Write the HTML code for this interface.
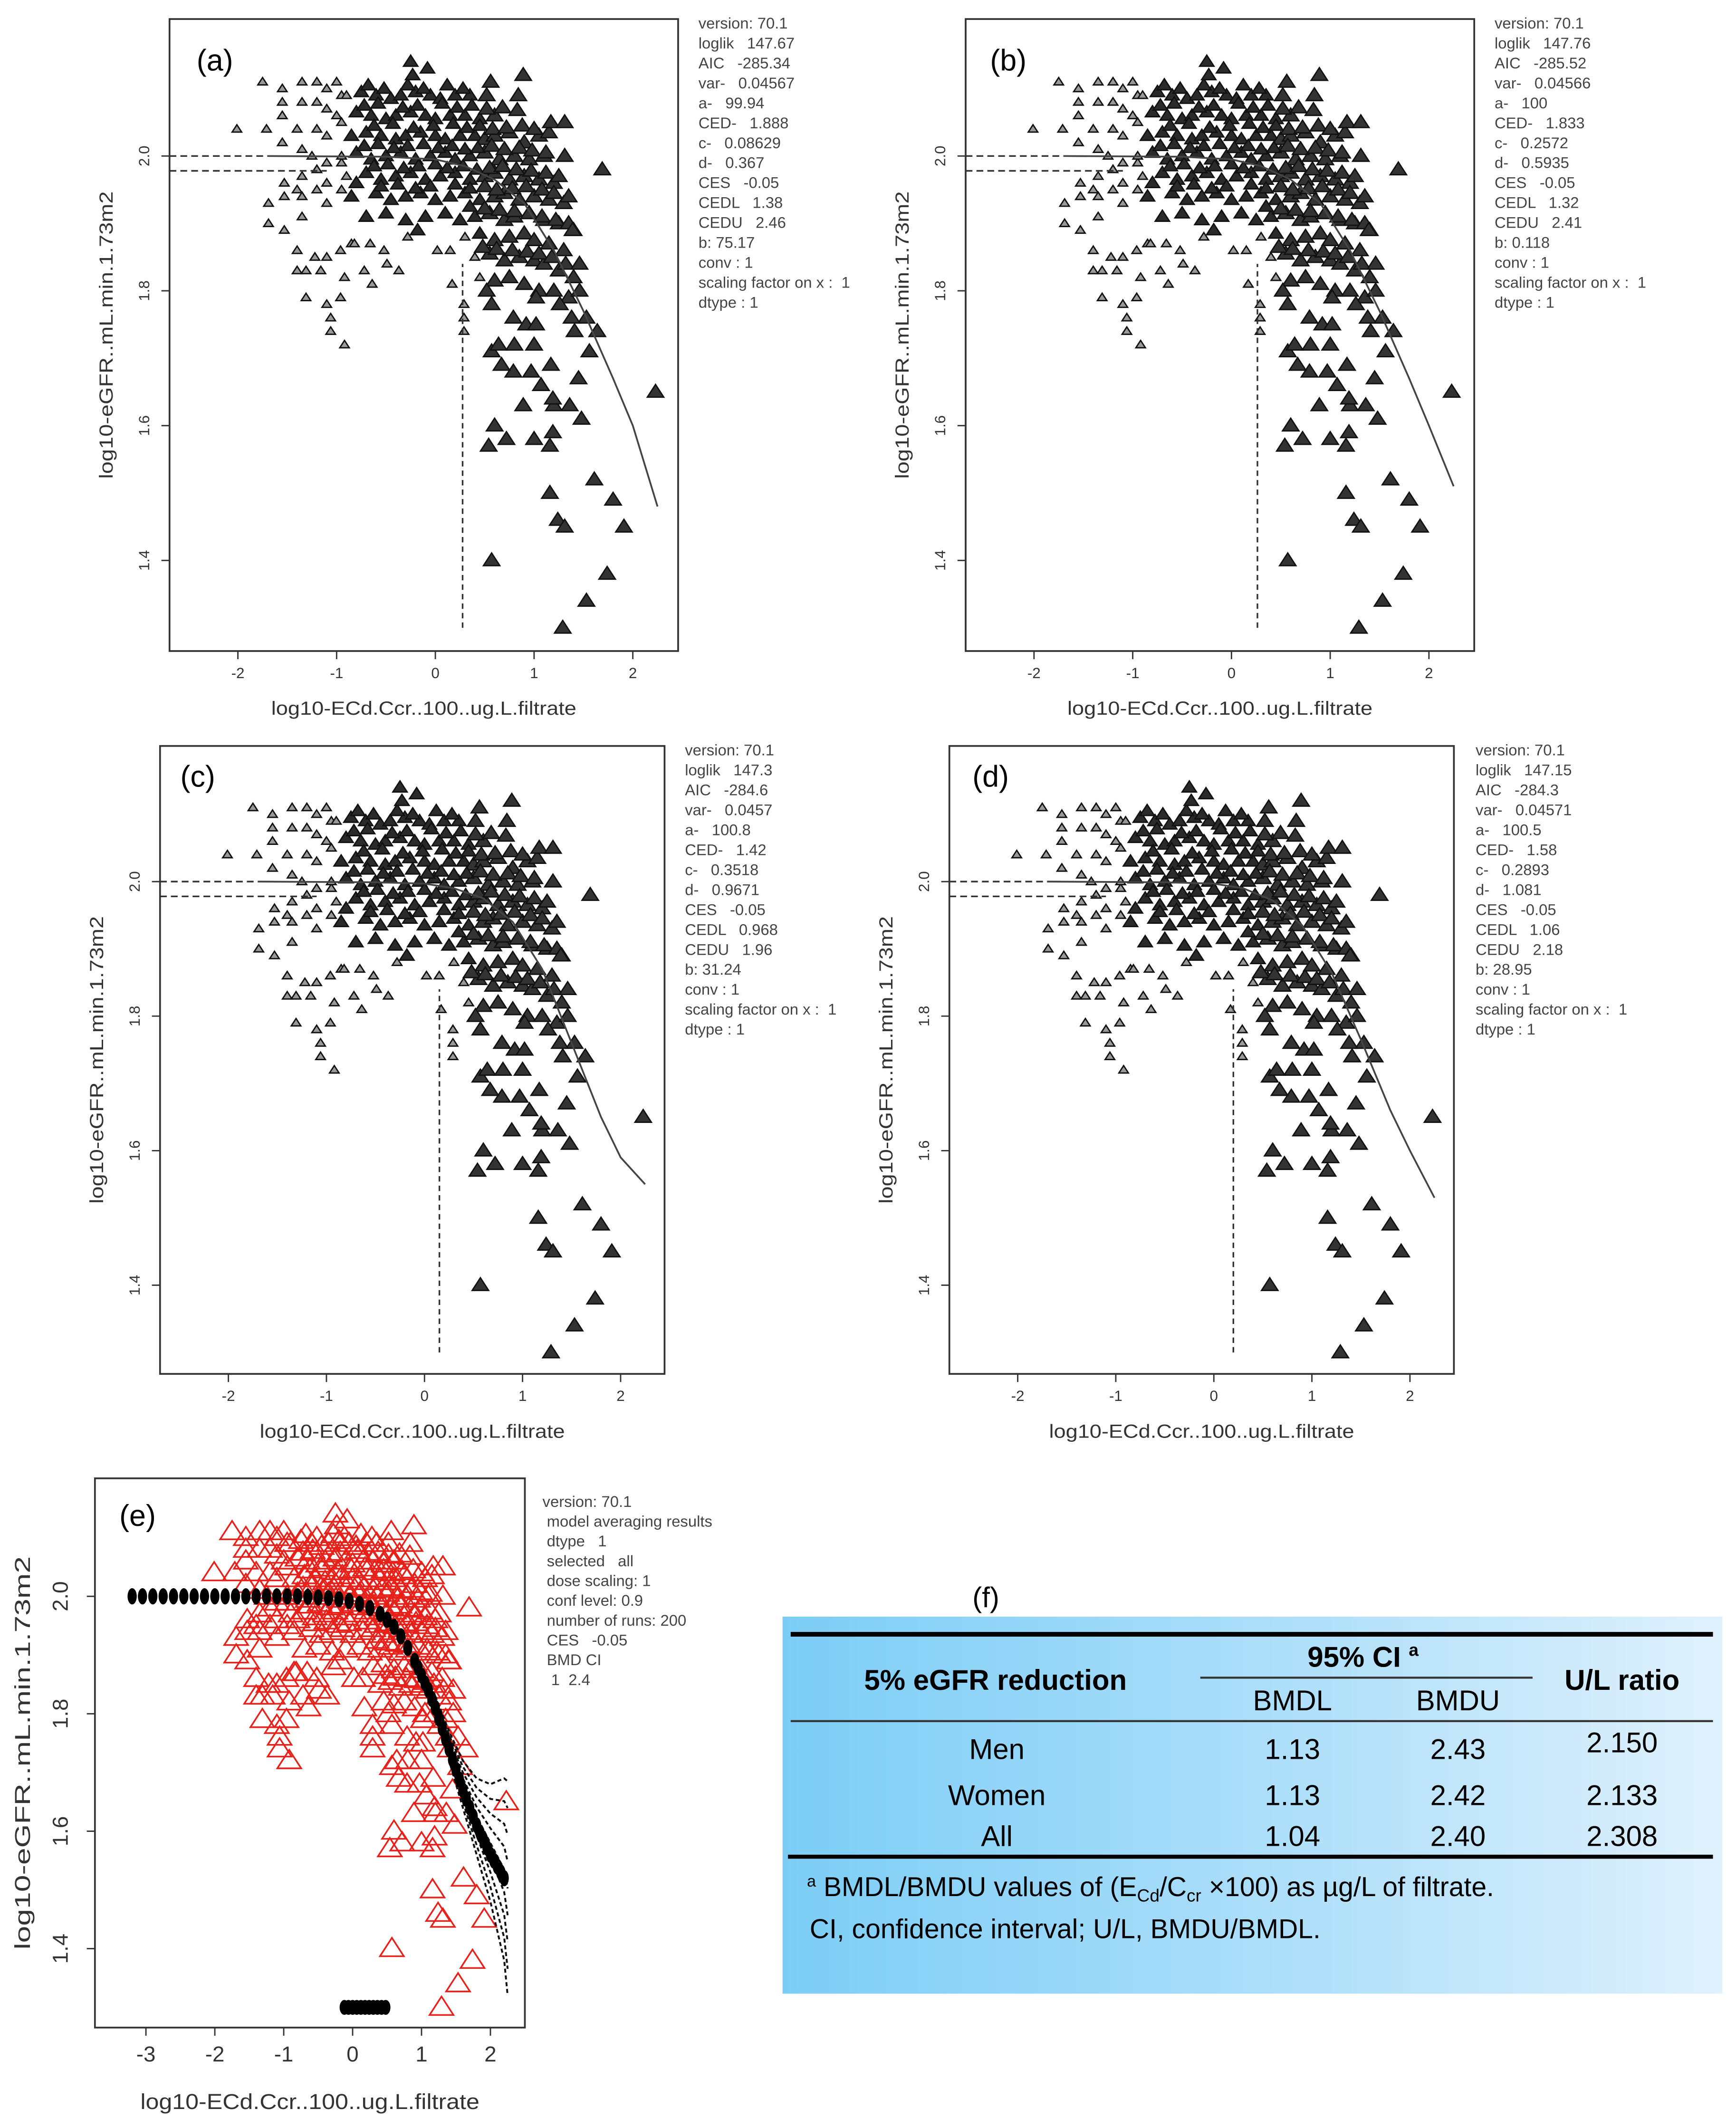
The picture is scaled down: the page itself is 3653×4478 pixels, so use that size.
<!DOCTYPE html>
<html><head><meta charset="utf-8"><style>
html,body{margin:0;padding:0;background:#fff}
svg{display:block}
text{font-family:"Liberation Sans",sans-serif}
</style></head><body>
<svg id="fig" width="3653" height="4478" viewBox="0 0 1280 1569" xmlns="http://www.w3.org/2000/svg">
<defs>
<linearGradient id="tg" x1="0" x2="1" y1="0" y2="0"><stop offset="0" stop-color="#7ccdf6"/><stop offset="0.6" stop-color="#b4e1fa"/><stop offset="1" stop-color="#e0f1fc"/></linearGradient>
</defs>
<g id="root"></g>
<g>
<text x="717" y="1185" font-size="21">(f)</text>
<rect x="577" y="1192" width="693" height="278" fill="url(#tg)"/>
<line x1="583" y1="1205" x2="1263" y2="1205" stroke="#000" stroke-width="3.5"/>
<line x1="885" y1="1237" x2="1130" y2="1237" stroke="#333" stroke-width="1.5"/>
<line x1="583" y1="1269" x2="1263" y2="1269" stroke="#333" stroke-width="1.5"/>
<line x1="581" y1="1369" x2="1263" y2="1369" stroke="#000" stroke-width="3"/>
<g font-size="21" text-anchor="middle" fill="#000" font-family="Liberation Sans, sans-serif">
<text x="734" y="1246" font-weight="bold">5% eGFR reduction</text>
<text x="1005" y="1229" font-weight="bold">95% CI <tspan font-size="13" dy="-8">a</tspan></text>
<text x="1196" y="1246" font-weight="bold">U/L ratio</text>
<text x="953" y="1261">BMDL</text>
<text x="1075" y="1261">BMDU</text>
<text x="735" y="1297">Men</text>
<text x="953" y="1297">1.13</text><text x="1075" y="1297">2.43</text><text x="1196" y="1292">2.150</text>
<text x="735" y="1331">Women</text>
<text x="953" y="1331">1.13</text><text x="1075" y="1331">2.42</text><text x="1196" y="1331">2.133</text>
<text x="735" y="1361">All</text>
<text x="953" y="1361">1.04</text><text x="1075" y="1361">2.40</text><text x="1196" y="1361">2.308</text>
</g>
<text x="595" y="1398" font-size="20"><tspan font-size="12" dy="-7">a</tspan><tspan dy="7"> BMDL/BMDU values of (E</tspan><tspan font-size="13" dy="4">Cd</tspan><tspan dy="-4">/C</tspan><tspan font-size="13" dy="4">cr</tspan><tspan dy="-4"> ×100) as µg/L of filtrate.</tspan></text>
<text x="597" y="1429" font-size="20">CI, confidence interval; U/L, BMDU/BMDL.</text>
</g>
</svg>
<script>
// observed data (log10 dose, log10 eGFR)
const ptsX = [-2.01,-1.71,-1.75,-1.55,-1.55,-1.55,-1.55,-1.53,-1.53,-1.53,-1.69,-1.69,-1.35,-1.35,-1.35,-1.35,-1.35,-1.35,-1.4,-1.4,-1.2,-1.2,-1.2,-1.2,-1.2,-1.25,-1.1,-1.1,-1.1,-1.1,-1.1,-1.1,-1.0,-0.95,-0.95,-0.95,-0.95,-0.85,-0.8,
-1.31,-1.1,-0.96,-1.06,-1.06,-0.92,-0.64,-0.72,-0.92,-1.16,-1.4,-1.31,-1.22,-1.4,-1.1,-0.96,-0.82,-0.66,-0.52,-0.37,-0.49,-0.28,-0.18,0.02,0.15,
-0.9,-0.75,-0.6,-0.45,-0.35,-0.2,-0.05,0.05,0.2,0.35,
-1.0,-0.8,-0.65,-0.5,-0.4,-0.25,-0.1,0.0,0.15,0.3,0.45,0.6,
-0.85,-0.7,-0.55,-0.4,-0.3,-0.15,0.0,0.1,0.25,0.4,0.5,0.6,0.75,0.9,1.05,
-0.95,-0.8,-0.65,-0.5,-0.35,-0.2,-0.05,0.1,0.2,0.35,0.5,0.65,0.8,0.95,1.1,
-0.9,-0.7,-0.55,-0.4,-0.25,-0.1,0.05,0.2,0.35,0.5,0.6,0.75,0.9,1.05,1.2,
-0.85,-0.6,-0.45,-0.3,-0.15,0.0,0.15,0.3,0.45,0.6,0.7,0.85,1.0,1.15,1.3,
-0.7,-0.5,-0.3,-0.1,0.1,0.25,0.4,0.55,0.7,0.8,0.95,1.1,1.25,1.4,
0.3,0.45,0.6,0.75,0.9,1.0,1.15,1.3,
0.4,0.55,0.7,0.85,1.0,1.1,1.25,1.4,
0.45,0.6,0.75,0.9,1.05,1.2,1.35,
-0.68,-0.52,-0.28,-0.12,0.12,0.28,
-0.72,-0.58,-0.33,-0.18,0.07,0.22,0.37,0.52,0.68,0.83,
-0.62,-0.43,-0.22,-0.02,0.18,0.32,0.45,0.58,0.72,0.88,1.0,1.15,
-0.72,-0.58,-0.42,-0.28,-0.12,0.03,0.17,0.3,0.43,0.57,0.7,0.85,0.98,1.12,
-0.62,-0.48,-0.32,-0.17,0.0,0.12,0.28,0.42,0.55,0.68,0.82,0.97,1.12,1.25,
-0.55,-0.38,-0.2,-0.05,0.2,0.35,0.5,0.62,0.78,0.92,1.08,1.2,1.35,
0.35,0.5,0.65,0.8,0.95,1.08,1.22,1.35,
0.48,0.62,0.78,0.93,1.05,1.18,1.32,
1.69,2.23,1.61,1.8,1.91,1.74,1.53,1.29,0.57,1.16,1.24,1.31,0.54,0.6,0.72,1.0,1.19,1.16,0.89,1.2,1.36,1.48,1.07,1.19,1.45,1.17,0.97,0.79,0.67,0.57,0.64,0.8,1.0,0.79,0.92,1.02,1.41,1.56,1.64,1.53,1.38,1.46,1.46,1.26,1.02,0.57,0.52,0.29,0.29,0.29,0.17,1.39,1.31,1.17,1.31,0.89,0.84,0.52,0.56,-0.23,-0.25,-0.08];
const ptsY = [2.04,2.04,2.11,2.1,2.08,2.06,2.02,1.89,1.94,1.96,1.9,1.93,2.11,2.08,2.01,1.97,1.94,1.91,2.04,1.95,2.11,2.08,2.04,1.98,1.95,2.0,2.1,2.07,2.03,1.99,1.96,1.93,2.11,2.09,2.05,1.99,1.95,1.87,1.96,
1.79,1.78,1.79,1.76,1.74,1.72,1.81,1.83,1.82,1.83,1.83,1.83,1.85,1.86,1.85,1.86,1.87,1.87,1.86,1.83,1.84,1.88,1.89,1.86,1.86,
2.09,2.095,2.09,2.085,2.09,2.095,2.09,2.085,2.09,2.09,
2.06,2.065,2.06,2.055,2.06,2.065,2.06,2.055,2.06,2.06,2.055,2.06,
2.03,2.035,2.03,2.025,2.03,2.035,2.03,2.025,2.03,2.03,2.025,2.03,2.035,2.02,2.03,
2.0,2.005,1.995,2.0,2.005,1.995,2.0,2.005,1.995,2.0,2.005,1.995,2.0,1.995,2.0,
1.97,1.975,1.965,1.97,1.975,1.965,1.97,1.975,1.965,1.97,1.975,1.965,1.97,1.965,1.96,
1.94,1.945,1.935,1.94,1.945,1.935,1.94,1.945,1.935,1.94,1.945,1.935,1.94,1.935,1.93,
1.91,1.915,1.905,1.91,1.915,1.905,1.91,1.915,1.905,1.91,1.915,1.905,1.9,1.89,
1.88,1.885,1.875,1.88,1.885,1.875,1.87,1.86,
1.85,1.855,1.845,1.85,1.845,1.84,1.83,1.82,
1.82,1.815,1.82,1.81,1.8,1.8,1.79,
2.105,2.1,2.105,2.1,2.105,2.1,
2.075,2.078,2.072,2.075,2.078,2.072,2.075,2.07,2.072,2.068,
2.045,2.048,2.042,2.045,2.048,2.042,2.045,2.04,2.042,2.045,2.04,2.035,
2.015,2.018,2.012,2.015,2.018,2.012,2.015,2.01,2.012,2.015,2.01,2.012,2.008,2.005,
1.985,1.988,1.982,1.985,1.988,1.982,1.985,1.98,1.982,1.985,1.98,1.978,1.975,1.97,
1.955,1.958,1.952,1.955,1.958,1.952,1.955,1.95,1.952,1.955,1.95,1.945,1.94,
1.925,1.922,1.92,1.918,1.915,1.91,1.905,1.9,
1.865,1.862,1.86,1.858,1.855,1.85,1.84];
ptsY.push(1.98,1.65,1.52,1.49,1.45,1.38,1.34,1.3,1.4,1.5,1.46,1.45,1.57,1.6,1.58,1.58,1.59,1.57,1.63,1.63,1.63,1.61,1.66,1.64,1.67,1.69,1.68,1.68,1.69,1.71,1.72,1.72,1.72,1.76,1.75,1.75,1.74,1.71,1.74,1.76,1.76,1.8,1.84,1.78,1.79,1.78,1.8,1.78,1.76,1.74,1.81,1.89,2.0,2.05,2.05,2.12,2.09,2.09,2.11,2.12,2.14,2.13);
// fitted curves per panel
const fitX = [-1.7,-0.5,0,0.3,0.6,0.9,1.2,1.5,1.8,2.0,2.25];
const fitYa = [2.0,1.999,1.995,1.985,1.965,1.93,1.86,1.77,1.67,1.6,1.48];
const fitYb = [2.0,1.999,1.995,1.985,1.965,1.93,1.86,1.77,1.67,1.6,1.51];
const fitYc = [2.0,1.999,1.997,1.99,1.975,1.94,1.87,1.76,1.65,1.59,1.55];
const fitYd = [2.0,1.999,1.997,1.99,1.972,1.935,1.865,1.765,1.66,1.6,1.53];
const cedLog = [0.276,0.263,0.152,0.199];
const xTicks = [-2,-1,0,1,2];
const yTicks = [1.4,1.6,1.8,2.0];
const yTickLabels = ["1.4","1.6","1.8","2.0"];
const infoA = ["version: 70.1","loglik   147.67","AIC   -285.34","var-   0.04567","a-   99.94","CED-   1.888","c-   0.08629","d-   0.367","CES   -0.05","CEDL   1.38","CEDU   2.46","b: 75.17","conv : 1","scaling factor on x :  1","dtype : 1"];
const infoB = ["version: 70.1","loglik   147.76","AIC   -285.52","var-   0.04566","a-   100","CED-   1.833","c-   0.2572","d-   0.5935","CES   -0.05","CEDL   1.32","CEDU   2.41","b: 0.118","conv : 1","scaling factor on x :  1","dtype : 1"];
const infoC = ["version: 70.1","loglik   147.3","AIC   -284.6","var-   0.0457","a-   100.8","CED-   1.42","c-   0.3518","d-   0.9671","CES   -0.05","CEDL   0.968","CEDU   1.96","b: 31.24","conv : 1","scaling factor on x :  1","dtype : 1"];
const infoD = ["version: 70.1","loglik   147.15","AIC   -284.3","var-   0.04571","a-   100.5","CED-   1.58","c-   0.2893","d-   1.081","CES   -0.05","CEDL   1.06","CEDU   2.18","b: 28.95","conv : 1","scaling factor on x :  1","dtype : 1"];
const infoE = ["version: 70.1"," model averaging results"," dtype   1"," selected   all"," dose scaling: 1"," conf level: 0.9"," number of runs: 200"," CES   -0.05"," BMD CI","  1  2.4"];
// model-averaged curve (panel e)
const avgX = [-3.2,-3.05,-2.9,-2.75,-2.6,-2.45,-2.3,-2.15,-2.0,-1.85,-1.7,-1.55,-1.4,-1.25,-1.1,-0.95,-0.8,-0.65,-0.5,-0.35,-0.2,-0.05,0.1,0.25,0.4,0.5,0.6,0.7,0.8,0.9,0.95,1.0,1.05,1.1,1.15,1.2,1.25,1.3,1.35,1.4,1.45,1.5,1.55,1.6,1.65,1.7,1.75,1.8,1.85,1.9,1.95,2.0,2.05,2.1,2.15,2.2];
const avgY = [2.0,2.0,2.0,2.0,2.0,2.0,2.0,2.0,2.0,2.0,2.0,2.0,2.0,2.0,2.0,2.0,2.0,1.999,1.998,1.997,1.995,1.992,1.987,1.98,1.97,1.96,1.948,1.932,1.912,1.89,1.878,1.865,1.852,1.84,1.825,1.81,1.792,1.775,1.757,1.74,1.722,1.705,1.688,1.67,1.655,1.64,1.625,1.61,1.597,1.585,1.572,1.56,1.55,1.54,1.53,1.52];
const bandX = [1.2,1.4,1.6,1.8,2.0,2.2,2.25];
const bandHi = [1.83,1.77,1.72,1.69,1.68,1.69,1.685];
const bandLo = [1.8,1.72,1.64,1.56,1.48,1.38,1.32];
const ciX = [-0.12,-0.06,0.0,0.06,0.12,0.18,0.24,0.3,0.36,0.42,0.48];
const ciY = 1.3;

const NS="http://www.w3.org/2000/svg";
const root=document.getElementById('root');
function mk(tag,attrs,parent){const e=document.createElementNS(NS,tag);for(const k in attrs)e.setAttribute(k,attrs[k]);(parent||root).appendChild(e);return e;}

function panel(P){
  const g=mk('g',{});
  
  
  const sx=v=>P.x0+(v)*P.kx, sy=v=>P.y0-(v-2.0)*P.ky;
  const box=mk('rect',{x:P.L,y:P.T,width:P.R-P.L,height:P.B-P.T,fill:'none',stroke:'#333','stroke-width':1.3},g);
  
  
  const xt = P.id==='e' ? [-3].concat(xTicks) : xTicks;
  xt.forEach(t=>{
    mk('line',{x1:sx(t),x2:sx(t),y1:P.B,y2:P.B+6,stroke:'#333','stroke-width':1},g);
    const tx=mk('text',{x:sx(t),y:P.B+P.tfs+9,'font-size':P.tfs,'text-anchor':'middle',fill:'#333'},g);
    tx.textContent=String(t);
    
    
  });
  yTicks.forEach((t,i)=>{
    mk('line',{x1:P.L-6,x2:P.L,y1:sy(t),y2:sy(t),stroke:'#333','stroke-width':1},g);
    const tx=mk('text',{x:0,y:0,'font-size':P.tfs,'text-anchor':'middle',fill:'#333',transform:`translate(${P.L-P.tfs-4},${sy(t)}) rotate(-90)`},g);
    tx.textContent=yTickLabels[i];
    
    
  });
  const xl=mk('text',{x:(P.L+P.R)/2,y:P.B+P.xlOff,'font-size':P.lfs,'text-anchor':'middle',fill:'#333',textLength:P.xlLen,lengthAdjust:'spacingAndGlyphs'},g);
  xl.textContent='log10-ECd.Ccr..100..ug.L.filtrate';
  
  
  const yl=mk('text',{x:0,y:0,'font-size':P.lfs,'text-anchor':'middle',fill:'#333',textLength:P.ylLen,lengthAdjust:'spacingAndGlyphs',transform:`translate(${P.ylx},${(P.T+P.B)/2}) rotate(-90)`},g);
  yl.textContent='log10-eGFR..mL.min.1.73m2';
  
  
  const lab=mk('text',{x:P.labx,y:P.laby,'font-size':22,fill:'#000'},g);
  lab.textContent='('+P.id+')';
  
  
  const info=mk('g',{},g);
  
  
  P.info.forEach((s,i)=>{const t=mk('text',{x:P.ix,y:P.iy+i*P.ilh,'font-size':11.5,fill:'#444'},info);t.textContent=s;t.setAttribute('style','white-space:pre');});
  const pg=mk('g',{},g);
  
  
  ptsX.forEach((xv,i)=>{
    const yv=ptsY[i]; const cx=sx(xv), cy=sy(yv);
    let s, fill;
    if(P.id==='e'){s=8; fill='none';}
    else {
      const core = xv>-0.9 && yv>1.88;
      s = xv>0.45 ? 5.5 : (core ? 4.8 : 3.2);
      fill = xv>0.45 ? '#333' : (core ? '#2a2a2a' : '#999');
    }
    const stroke = P.id==='e' ? '#e8201a' : '#111';
    const tri=mk('polygon',{points:`${cx},${cy-s} ${cx-s*1.1},${cy+s*0.7} ${cx+s*1.1},${cy+s*0.7}`,fill:fill,stroke:stroke,'stroke-width':P.id==='e'?1.2:1},pg);
    
    
  });
  if(P.id!=='e'){
    const fy=P.fit;
    const d=fitX.map((xv,i)=>(i?'L':'M')+sx(xv)+','+sy(fy[i])).join(' ');
    const c=mk('path',{d:d,fill:'none',stroke:'#444','stroke-width':1.3},g);
    
    
    const ced=cedLog[P.ci];
    const v=mk('line',{x1:sx(ced),x2:sx(ced),y1:sy(1.3),y2:sy(1.84),stroke:'#333','stroke-width':1.2,'stroke-dasharray':'4,3'},g);
    
    
    const h1=mk('line',{x1:P.L,x2:sx(-1.7),y1:sy(2.0),y2:sy(2.0),stroke:'#333','stroke-width':1.2,'stroke-dasharray':'5,3'},g);
    
    
    const h2=mk('line',{x1:P.L,x2:sx(-1.1),y1:sy(1.978),y2:sy(1.978),stroke:'#333','stroke-width':1.2,'stroke-dasharray':'5,3'},g);
    
    
  } else {
    const bg=mk('g',{},g);
    
    
    for(let k=0;k<9;k++){
      const d=bandX.map((xv,i)=>(i?'L':'M')+sx(xv)+','+sy(bandLo[i]+(bandHi[i]-bandLo[i])*k/8)).join(' ');
      mk('path',{d:d,fill:'none',stroke:'#111','stroke-width':1.4,'stroke-dasharray':'3,2'},bg);
    }
    const ag=mk('g',{},g);
    
    
    avgX.forEach((xv,i)=>{const e=mk('ellipse',{cx:sx(xv),cy:sy(avgY[i]),rx:3.4,ry:6,fill:'#000'},ag);});
    const cg=mk('g',{},g);
    
    
    ciX.forEach(xv=>{const e=mk('ellipse',{cx:sx(xv),cy:sy(ciY),rx:3,ry:5,fill:'#000',stroke:'#000'},cg);});
  }
}
const common={tfs:11,lfs:14,ilh:14.7};
panel(Object.assign({},common,{id:'a',L:125,R:500,T:14,B:480,x0:321,kx:72.8,y0:115,ky:497,xlOff:47,xlLen:225,ylx:83,ylLen:212,labx:145,laby:52,info:infoA,ix:515,iy:21,fit:fitYa,ci:0}));
panel(Object.assign({},common,{id:'b',L:712,R:1087,T:14,B:480,x0:908,kx:72.8,y0:115,ky:497,xlOff:47,xlLen:225,ylx:670,ylLen:212,labx:730,laby:52,info:infoB,ix:1102,iy:21,fit:fitYb,ci:1}));
panel(Object.assign({},common,{id:'c',L:118,R:490,T:550,B:1013,x0:313,kx:72.3,y0:650,ky:496,xlOff:47,xlLen:225,ylx:76,ylLen:212,labx:133,laby:580,info:infoC,ix:505,iy:557,fit:fitYc,ci:2}));
panel(Object.assign({},common,{id:'d',L:700,R:1072,T:550,B:1013,x0:895,kx:72.3,y0:650,ky:496,xlOff:47,xlLen:225,ylx:658,ylLen:212,labx:717,laby:580,info:infoD,ix:1088,iy:557,fit:fitYd,ci:3}));
panel(Object.assign({},common,{id:'e',tfs:16,lfs:16,L:70,R:387,T:1090,B:1495,x0:260,kx:50.8,y0:1177,ky:433,xlOff:60,xlLen:250,ylx:22,ylLen:290,labx:88,laby:1125,info:infoE,ix:400,iy:1111,ilh:14.6}));
</script>
</body></html>
